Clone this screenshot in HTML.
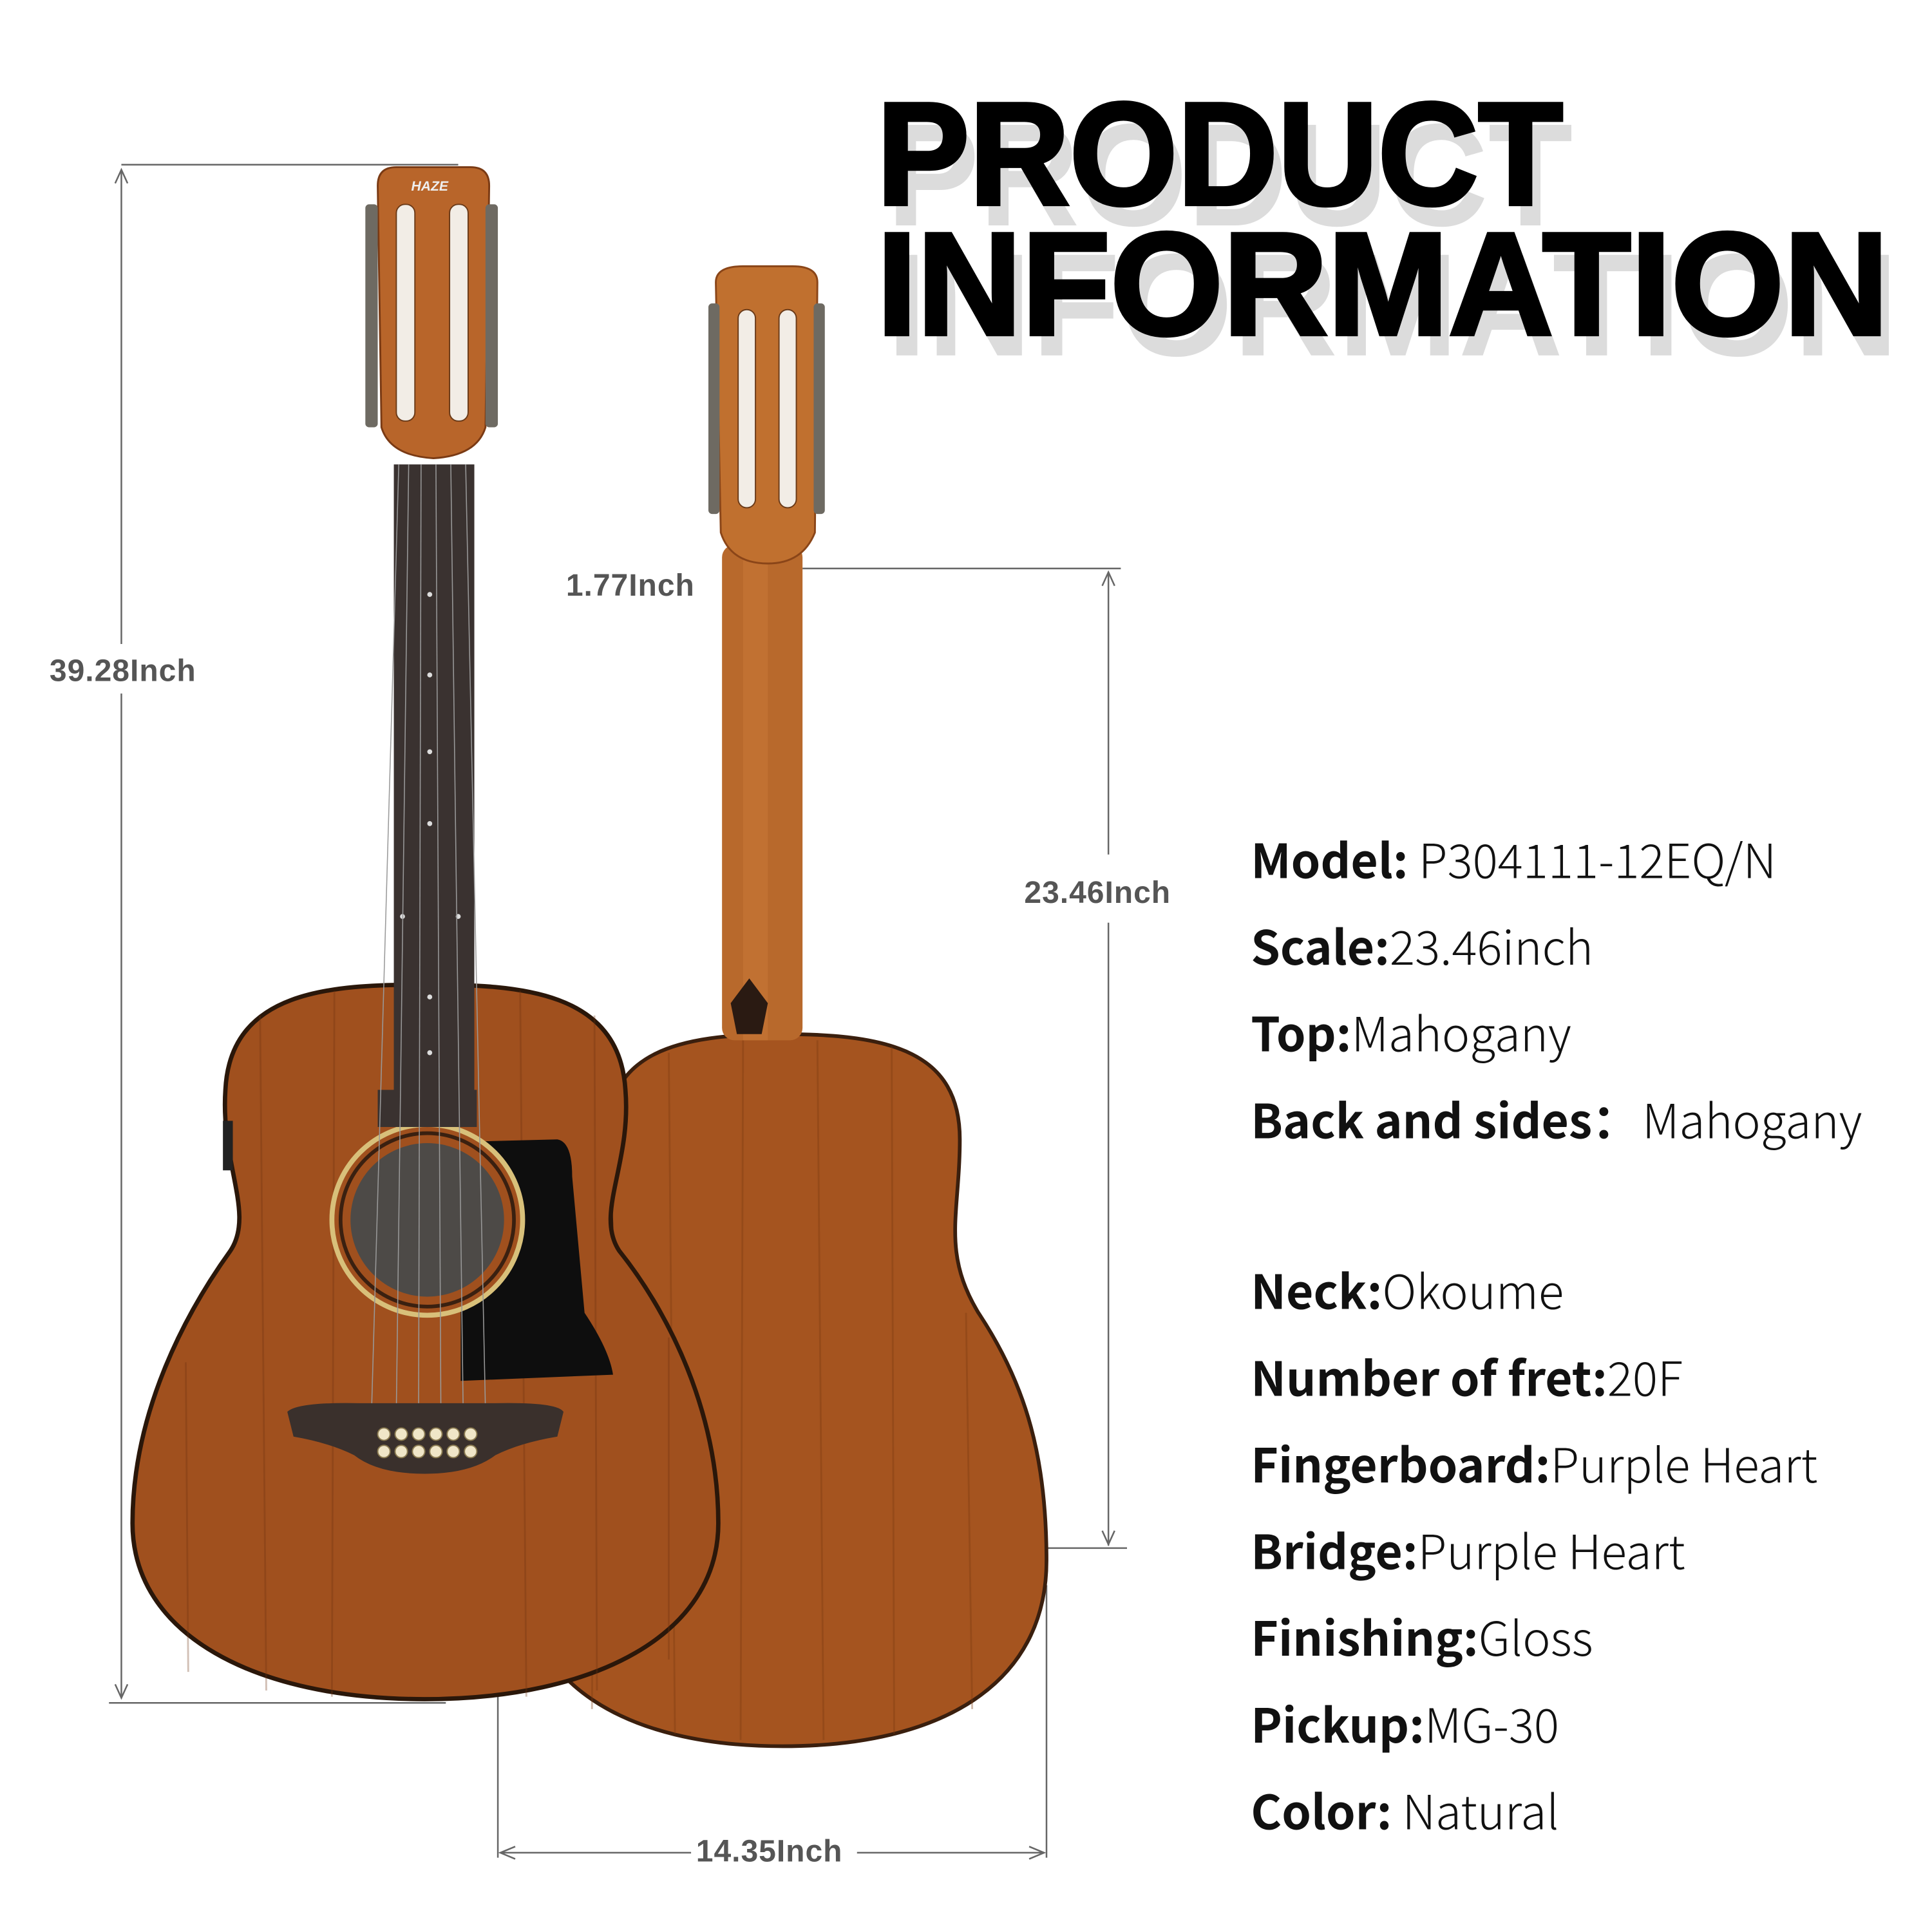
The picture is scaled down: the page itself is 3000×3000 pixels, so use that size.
<!DOCTYPE html>
<html><head><meta charset="utf-8"><style>html,body{margin:0;padding:0;background:#fff}svg{display:block}</style></head>
<body>
<svg width="3000" height="3000" viewBox="0 0 1560 1560" xmlns="http://www.w3.org/2000/svg">
<rect width="1560" height="1560" fill="#fff"/>
<g font-family="'Liberation Sans',sans-serif" font-weight="900" font-size="118">
<text x="716" y="182" textLength="554" lengthAdjust="spacingAndGlyphs" fill="#dcdcdc">PRODUCT</text>
<text x="716" y="287" textLength="817" lengthAdjust="spacingAndGlyphs" fill="#dcdcdc">INFORMATION</text>
<text x="708" y="165" textLength="554" lengthAdjust="spacingAndGlyphs" fill="#000" stroke="#000" stroke-width="3">PRODUCT</text>
<text x="708" y="270" textLength="817" lengthAdjust="spacingAndGlyphs" fill="#000" stroke="#000" stroke-width="3">INFORMATION</text>
</g>
<g font-family="'Noto Sans CJK SC',sans-serif" font-size="38" fill="#111">
<text x="1010" y="709"><tspan font-weight="700">Model:</tspan><tspan font-weight="300"> P304111-12EQ/N</tspan></text>
<text x="1010" y="779"><tspan font-weight="700">Scale:</tspan><tspan font-weight="300">23.46inch</tspan></text>
<text x="1010" y="849"><tspan font-weight="700">Top:</tspan><tspan font-weight="300">Mahogany</tspan></text>
<text x="1010" y="919"><tspan font-weight="700">Back and sides：</tspan><tspan font-weight="300" x="1326">Mahogany</tspan></text>
<text x="1010" y="1057"><tspan font-weight="700">Neck:</tspan><tspan font-weight="300">Okoume</tspan></text>
<text x="1010" y="1127"><tspan font-weight="700">Number of fret:</tspan><tspan font-weight="300">20F</tspan></text>
<text x="1010" y="1197"><tspan font-weight="700">Fingerboard:</tspan><tspan font-weight="300">Purple Heart</tspan></text>
<text x="1010" y="1267"><tspan font-weight="700">Bridge:</tspan><tspan font-weight="300">Purple Heart</tspan></text>
<text x="1010" y="1337"><tspan font-weight="700">Finishing:</tspan><tspan font-weight="300">Gloss</tspan></text>
<text x="1010" y="1407"><tspan font-weight="700">Pickup:</tspan><tspan font-weight="300">MG-30</tspan></text>
<text x="1010" y="1477"><tspan font-weight="700">Color:</tspan><tspan font-weight="300"> Natural</tspan></text>
</g>
<g stroke="#666" stroke-width="1.3" fill="none">
<line x1="98" y1="133" x2="370" y2="133"/>
<line x1="88" y1="1375" x2="360" y2="1375"/>
<line x1="98" y1="137" x2="98" y2="520"/>
<line x1="98" y1="560" x2="98" y2="1370"/>
<polyline points="93,148 98,137 103,148"/>
<polyline points="93,1360 98,1371 103,1360"/>
<line x1="648" y1="459" x2="905" y2="459"/>
<line x1="895" y1="462" x2="895" y2="690"/>
<line x1="895" y1="745" x2="895" y2="1248"/>
<polyline points="890,473 895,462 900,473"/>
<polyline points="890,1236 895,1247 900,1236"/>
<line x1="845" y1="1250" x2="910" y2="1250"/>
<line x1="402" y1="1370" x2="402" y2="1500"/>
<line x1="845" y1="1280" x2="845" y2="1500"/>
<line x1="404" y1="1496" x2="558" y2="1496"/>
<line x1="692" y1="1496" x2="843" y2="1496"/>
<polyline points="416,1491 404,1496 416,1501"/>
<polyline points="831,1491 843,1496 831,1501"/>
</g>
<g font-family="'Liberation Sans',sans-serif" font-size="25" font-weight="700" fill="#555" letter-spacing="0.5">
<text x="40" y="550">39.28Inch</text>
<text x="457" y="481">1.77Inch</text>
<text x="827" y="729">23.46Inch</text>
<text x="562" y="1503">14.35Inch</text>
</g>
<g>
<path d="M632,835 C720,835 775,850 775,920 C775,980 760,1010 790,1060 C830,1120 845,1180 845,1260 C845,1360 760,1410 632,1410 C505,1410 420,1360 420,1260 C420,1180 435,1120 475,1060 C505,1010 490,980 490,920 C490,850 545,835 632,835 Z" fill="#a5541f" stroke="#3a1f0e" stroke-width="3"/>
<g stroke="#7a3810" stroke-width="1.5" opacity="0.35">
<line x1="540" y1="850" x2="545" y2="1400"/><line x1="600" y1="840" x2="598" y2="1405"/><line x1="660" y1="840" x2="665" y2="1405"/><line x1="720" y1="845" x2="722" y2="1400"/><line x1="780" y1="1060" x2="785" y2="1380"/><line x1="480" y1="1080" x2="478" y2="1380"/>
</g>
<rect x="583" y="440" width="65" height="400" rx="10" fill="#b8692c"/>
<rect x="600" y="440" width="20" height="400" fill="#c97a38" opacity="0.5"/>
<path d="M590,810 L605,790 L620,810 L615,835 L595,835 Z" fill="#2a1a12"/>
<path d="M578,228 Q578,215 600,215 L640,215 Q660,215 660,228 L658,430 Q648,455 620,455 Q590,455 582,430 Z" fill="#c0702f" stroke="#8a4518" stroke-width="1.5"/>
<rect x="596" y="250" width="14" height="160" rx="7" fill="#f2ede6" stroke="#6a3a18"/>
<rect x="629" y="250" width="14" height="160" rx="7" fill="#f2ede6" stroke="#6a3a18"/>
<g fill="#6e6a62">
<rect x="572" y="245" width="9" height="170" rx="3"/><rect x="657" y="245" width="9" height="170" rx="3"/>
</g>
</g>
<g>
<path d="M343,795 C420,795 500,800 505,880 C510,940 480,980 500,1010 C540,1060 580,1140 580,1230 C580,1320 480,1372 343,1372 C206,1372 107,1320 107,1230 C107,1140 150,1060 186,1010 C206,980 178,940 182,880 C186,800 266,795 343,795 Z" fill="#a0501e" stroke="#2a170a" stroke-width="3.5"/>
<g stroke="#6e3210" stroke-width="1.5" opacity="0.3">
<line x1="150" y1="1100" x2="152" y2="1350"/><line x1="210" y1="820" x2="215" y2="1365"/><line x1="270" y1="800" x2="268" y2="1370"/><line x1="420" y1="800" x2="425" y2="1370"/><line x1="480" y1="820" x2="482" y2="1365"/><line x1="540" y1="1080" x2="540" y2="1340"/>
</g>
<path d="M372,922 L450,920 Q462,922 462,950 L472,1060 Q492,1090 495,1110 L372,1115 Z" fill="#0e0e0e"/>
<circle cx="345" cy="985" r="77" fill="#a0501e" stroke="#d8c07a" stroke-width="4"/>
<circle cx="345" cy="985" r="70" fill="none" stroke="#3a2010" stroke-width="3"/>
<circle cx="345" cy="985" r="62" fill="#4d4a47"/>
<rect x="318" y="375" width="65" height="530" fill="#3a3230"/>
<rect x="305" y="880" width="80" height="30" fill="#3a3230"/>
<g fill="#ddd"><circle cx="347" cy="480" r="2"/><circle cx="347" cy="545" r="2"/><circle cx="347" cy="607" r="2"/><circle cx="347" cy="665" r="2"/><circle cx="325" cy="740" r="2"/><circle cx="370" cy="740" r="2"/><circle cx="347" cy="805" r="2"/><circle cx="347" cy="850" r="2"/></g>
<g stroke="#999" stroke-width="0.8">
<line x1="322" y1="375" x2="300" y2="1140"/><line x1="330" y1="375" x2="320" y2="1140"/><line x1="340" y1="375" x2="338" y2="1140"/><line x1="352" y1="375" x2="356" y2="1140"/><line x1="364" y1="375" x2="374" y2="1140"/><line x1="376" y1="375" x2="392" y2="1140"/>
</g>
<path d="M232,1140 Q240,1132 290,1133 L400,1133 Q450,1132 455,1140 L450,1160 Q420,1165 400,1175 Q380,1190 343,1190 Q305,1190 286,1175 Q266,1165 237,1160 Z" fill="#3a302c"/>
<g fill="#f0e6c8" stroke="#8a7a50" stroke-width="1">
<circle cx="310" cy="1158" r="5"/><circle cx="324" cy="1158" r="5"/><circle cx="338" cy="1158" r="5"/><circle cx="352" cy="1158" r="5"/><circle cx="366" cy="1158" r="5"/><circle cx="380" cy="1158" r="5"/>
<circle cx="310" cy="1172" r="5"/><circle cx="324" cy="1172" r="5"/><circle cx="338" cy="1172" r="5"/><circle cx="352" cy="1172" r="5"/><circle cx="366" cy="1172" r="5"/><circle cx="380" cy="1172" r="5"/>
</g>
<path d="M305,150 Q305,135 320,135 L380,135 Q395,135 395,150 L392,345 Q385,368 350,370 Q315,368 308,345 Z" fill="#b8652a" stroke="#7a3a14" stroke-width="1.5"/>
<text x="332" y="154" font-family="'Liberation Sans',sans-serif" font-size="11" font-weight="700" font-style="italic" fill="#eee">HAZE</text>
<rect x="320" y="165" width="15" height="175" rx="7" fill="#f2ede6" stroke="#6a3a18"/>
<rect x="363" y="165" width="15" height="175" rx="7" fill="#f2ede6" stroke="#6a3a18"/>
<g fill="#6e6a62">
<rect x="295" y="165" width="10" height="180" rx="3"/><rect x="392" y="165" width="10" height="180" rx="3"/>
</g>
<rect x="180" y="905" width="8" height="40" fill="#222"/>
</g>
</svg>
</body></html>
